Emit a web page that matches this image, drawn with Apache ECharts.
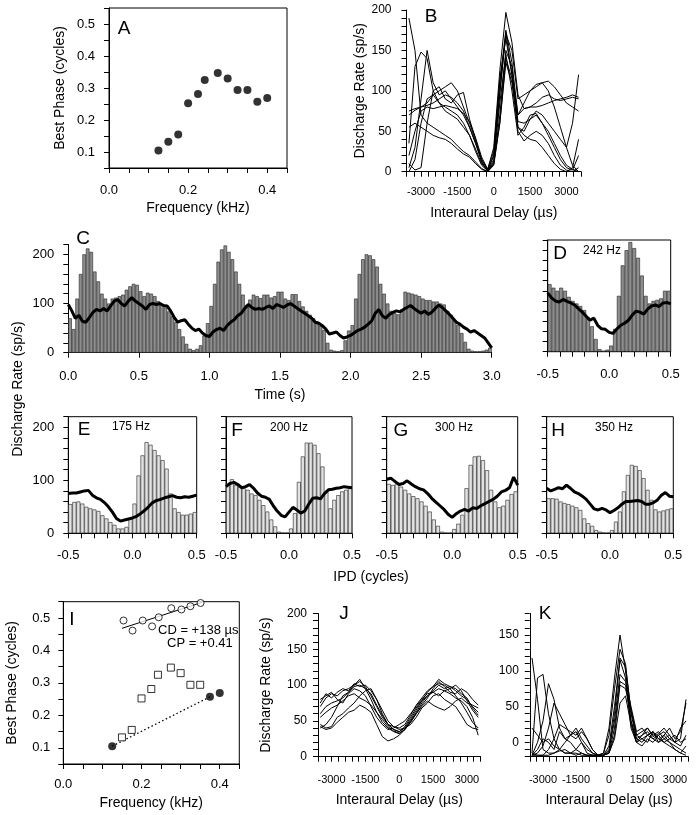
<!DOCTYPE html>
<html><head><meta charset="utf-8">
<script src="https://cdn.jsdelivr.net/npm/echarts/dist/echarts.min.js"></script>
<style>html,body{margin:0;padding:0;background:#fff}#c{width:698px;height:815px}</style>
</head><body><div id="c"></div>
<script>
// ---------------- DATA ----------------
// Panel A
const aFreq  = [0.125,0.15,0.175,0.2,0.225,0.242,0.275,0.3,0.325,0.35,0.375,0.4];
const aPhase = [0.105,0.132,0.155,0.252,0.281,0.325,0.347,0.33,0.294,0.294,0.257,0.269];

// Shared interaural delay samples (µs) for B, J, K
const delays = [-3500,-3250,-3000,-2750,-2500,-2250,-2000,-1750,-1500,-1250,-1000,-750,-500,-250,0,250,500,750,1000,1250,1500,1750,2000,2250,2500,2750,3000,3250,3500];

// Panel B curves (sp/s)
const b1 = [190,150,70,60,55,50,45,40,32,25,20,12,4,0,10,60,135,110,55,45,40,38,30,20,10,3,0,5,40];
const b2 = [35,130,148,140,100,85,80,75,70,60,45,25,8,1,15,95,172,120,62,60,65,70,60,45,30,15,5,2,20];
const b3 = [5,30,90,150,110,95,100,90,80,70,55,35,12,2,20,110,175,135,70,85,100,108,110,100,80,55,30,8,0];
const b4 = [75,78,80,82,85,90,95,92,85,75,55,35,15,3,25,115,165,120,70,78,80,80,82,85,88,90,92,95,92];
const b5 = [70,76,80,85,95,100,105,110,100,80,60,38,15,2,20,100,170,150,90,95,100,105,110,112,105,95,85,80,75];
const b6 = [10,2,5,60,100,105,90,85,95,98,65,40,12,0,10,70,150,130,55,50,65,75,70,60,50,40,30,60,120];
const b7 = [55,60,55,50,45,42,40,35,28,22,18,10,3,0,8,60,140,115,50,38,45,50,45,35,20,8,2,0,5];
const b8 = [0,15,60,90,95,85,75,70,65,55,45,28,10,1,12,85,145,100,45,55,70,72,60,50,35,20,8,3,0];
const b9 = [20,50,75,80,78,80,82,80,78,72,62,42,18,3,30,125,197,160,95,78,80,85,92,95,90,88,90,92,90];

// Panel C: PSTH bins (0.025 s) and rate line
const cBinWidth = 0.025;
const cBins = [70,48,110,160,200,212,205,165,145,120,110,100,110,112,115,118,128,135,140,138,
  125,115,122,120,115,105,98,92,84,74,62,48,33,18,8,5,8,15,35,60,
  95,140,185,210,218,205,190,165,140,118,97,108,118,115,111,118,118,112,115,124,
  124,110,107,119,119,105,94,85,77,70,63,55,46,20,6,4,3,5,25,45,
  56,110,160,190,200,198,190,175,140,120,100,85,80,78,88,124,122,120,118,115,
  110,107,107,104,104,100,98,85,77,66,56,40,22,8,4,3,3,4,6,10];
const cLine = [98,85,70,76,64,62,72,82,88,85,90,85,95,105,108,100,95,105,112,105,
  100,95,88,98,100,98,100,96,95,85,72,62,65,67,58,50,45,48,40,35,
  33,42,47,50,45,55,62,67,75,80,90,98,92,88,90,88,92,95,90,98,
  95,92,97,100,95,90,85,80,75,70,62,60,55,48,38,40,42,35,30,32,
  35,40,45,48,52,58,65,80,88,75,70,78,82,85,83,88,92,96,90,85,
  80,85,78,82,90,97,92,85,78,70,62,58,52,48,42,45,40,35,30,20,10];

// Panels D-H: IPD histograms (32 bins, -0.5..0.5 cycles) and rate lines (33 samples)
const ipdStep = 1/32;
const dBins = [133,126,120,126,120,108,100,95,90,82,68,50,25,5,2,4,12,45,110,170,200,216,204,185,150,110,95,100,102,105,120,120];
const dLine = [116,106,100,98,103,99,96,92,85,78,70,62,66,52,45,44,38,36,45,52,56,62,72,80,78,74,84,90,92,89,96,97,94];
const eBins = [55,59,60,56,50,47,45,42,34,28,21,16,9,9,12,29,56,109,147,172,167,157,147,138,122,75,47,40,35,35,37,40];
const eLine = [75,76,76,78,80,81,72,67,64,58,50,40,28,23,25,27,29,32,37,43,50,58,62,64,67,69,71,68,67,69,68,70,72];
const fBins = [94,102,91,88,85,82,75,72,63,53,41,26,13,3,1,1,9,38,97,145,171,171,167,151,126,79,47,63,72,79,82,85];
const fLine = [88,94,96,92,86,88,92,85,76,70,68,64,52,42,34,31,40,49,44,38,42,55,66,67,65,75,82,83,85,86,88,87,86];
const gBins = [93,91,94,88,82,75,70,66,60,52,41,26,14,3,1,1,8,18,35,85,129,145,146,138,119,82,60,49,52,63,74,79];
const gLine = [102,104,98,92,94,99,93,88,84,82,75,66,59,52,45,36,30,37,42,45,42,48,47,52,56,60,64,70,78,81,86,106,91];
const hBins = [66,66,65,60,57,55,52,49,44,28,19,14,6,3,1,1,6,22,41,79,110,129,127,119,104,82,63,45,41,43,45,47];
const hLine = [85,80,83,86,84,91,85,78,75,70,64,55,46,44,47,44,39,43,48,55,60,60,61,62,60,55,55,58,63,72,77,70,69];

// Panel I
const iSqFreq  = [0.15,0.175,0.2,0.225,0.242,0.275,0.3,0.325,0.35];
const iSqPhase = [0.132,0.155,0.252,0.281,0.325,0.347,0.33,0.294,0.294];
const iDotFreq  = [0.125,0.375,0.4];
const iDotPhase = [0.105,0.257,0.269];
const iCircFreq  = [0.154,0.177,0.203,0.227,0.244,0.276,0.302,0.325,0.351];
const iCircPhase = [0.492,0.461,0.492,0.474,0.502,0.530,0.526,0.536,0.546];
const iFitFreq  = [0.15,0.355];
const iFitPhase = [0.468,0.548];
const iTrendFreq  = [0.125,0.375];
const iTrendPhase = [0.105,0.257];

// Panel J curves
const j1 = [70,82,88,85,92,95,100,105,98,85,70,55,45,38,35,42,55,68,78,85,92,100,95,98,92,85,80,70,62];
const j2 = [40,45,55,70,85,90,100,108,95,80,62,48,40,35,32,38,48,60,72,82,95,105,98,90,88,95,90,80,72];
const j3 = [80,85,90,80,75,88,95,92,85,70,55,45,38,40,45,50,60,70,80,88,90,85,92,95,100,92,78,65,55];
const j4 = [45,40,42,55,60,68,75,85,92,95,80,60,45,38,35,40,45,55,68,75,85,88,80,75,70,58,45,40,38];
const j5 = [60,70,75,78,82,90,98,100,95,88,72,58,45,42,38,40,52,65,78,90,98,102,100,95,85,75,62,48,40];
const j6 = [42,38,40,48,55,62,65,72,68,62,45,28,22,25,30,38,48,60,70,78,72,68,65,70,78,82,75,72,68];
const j7 = [75,88,82,90,95,92,102,98,100,92,80,65,50,42,40,45,58,72,82,92,98,108,102,98,95,88,82,68,58];
const j8 = [55,62,68,72,78,85,88,82,78,72,62,52,42,36,33,38,50,62,75,85,90,95,92,88,82,78,70,55,30];

// Panel K curves
const k1 = [118,60,-10,-15,-15,-12,-10,-15,-15,-18,-18,-18,-18,-15,20,90,150,100,30,0,5,10,15,5,10,0,-5,-10,-15];
const k2 = [-15,90,95,40,5,-10,-15,-15,-10,-15,-18,-18,-18,-15,10,75,130,110,40,5,10,20,10,15,5,0,-10,-15,-18];
const k3 = [-18,0,30,82,60,20,5,10,15,0,-10,-15,-18,-18,-5,50,118,105,45,10,15,20,8,12,20,10,0,5,60];
const k4 = [-18,-15,-5,20,55,40,25,10,20,5,-5,-15,-18,-18,-10,30,95,85,50,15,20,10,15,0,10,20,5,15,55];
const k5 = [-15,-18,-18,-10,5,25,20,15,10,20,5,-10,-18,-18,-15,20,85,80,30,5,0,10,5,10,0,5,10,0,5];
const k6 = [-18,-18,-18,-18,-15,-10,0,10,5,15,5,-10,-18,-18,-15,5,55,65,25,0,-5,5,0,10,15,5,0,20,30];
const k7 = [20,10,0,5,-5,-10,-15,-15,-18,-15,-18,-18,-18,-18,-15,10,80,75,45,10,5,0,15,5,0,-5,-10,-15,-5];
const k8 = [-18,-10,5,0,-10,15,5,0,-10,0,-15,-18,-18,-18,-12,40,115,90,20,0,10,15,5,0,5,10,0,-5,10];

// ---------------- CHART ----------------
const FONT = '"Liberation Sans", Arial, Helvetica, sans-serif';
const BLACK = '#000';
const isMult = (v, s) => Math.abs(v / s - Math.round(v / s)) < 1e-6;
const fmt1 = v => (Math.abs(v) < 1e-9 ? '0.0' : v.toFixed(1));
const zip = (xs, ys) => xs.map((x, i) => [x, ys[i]]);

const grids = [
  {left:109,   top:8,     width:178,   height:160,   show:true},  // A 0
  {left:406.5, top:10,    width:174.5, height:161.7},             // B 1
  {left:68.3,  top:244.5, width:423.4, height:108.2},             // C 2
  {left:547.7, top:240,   width:123,   height:111.7, show:true},  // D 3
  {left:68.3,  top:416.7, width:128.4, height:116.6, show:true},  // E 4
  {left:226,   top:416.7, width:126,   height:116.6, show:true},  // F 5
  {left:386.7, top:416.7, width:131,   height:116.6, show:true},  // G 6
  {left:546.7, top:416.7, width:126.6, height:116.6, show:true},  // H 7
  {left:63.3,  top:601.7, width:176,   height:162.3, show:true},  // I 8
  {left:318,   top:613.5, width:162.5, height:143.2},             // J 9
  {left:529.8, top:613.5, width:158.4, height:143.2}              // K 10
].map(g => Object.assign({outerBoundsMode:'none', containLabel:false, borderColor:BLACK, borderWidth:1, backgroundColor:'transparent'}, g));

const xAxes = [], yAxes = [], series = [];
function valAxis(gi, min, max, interval, fmt, o) {
  o = o || {};
  const a = {
    type:'value', gridIndex:gi, min, max, interval,
    axisLine:{show:true, onZero:false, lineStyle:{color:BLACK, width:1}},
    axisTick:{show:true, inside:false, length:5, lineStyle:{color:BLACK, width:1}},
    splitLine:{show:false}, minorTick:{show:false}, minorSplitLine:{show:false},
    axisLabel:{show:true, formatter:fmt, color:BLACK, fontFamily:FONT, fontSize:o.fs || 13, margin:o.margin || 14, hideOverlap:false},
    silent:true
  };
  if (o.name) {
    a.name = o.name; a.nameLocation = 'middle'; a.nameGap = o.nameGap;
    a.nameTextStyle = {color:BLACK, fontFamily:FONT, fontSize:14};
  }
  return a;
}
function addX(a) { xAxes.push(a); return xAxes.length - 1; }
function addY(a) { yAxes.push(a); return yAxes.length - 1; }
function catAxis(gi, n) {
  return addX({type:'category', gridIndex:gi, data:Array.from({length:n}, (_, i) => i), show:false, boundaryGap:true});
}
function lineSeries(xi, yi, data, w) {
  series.push({type:'line', xAxisIndex:xi, yAxisIndex:yi, data, symbol:'none', showSymbol:false,
    lineStyle:{color:BLACK, width:w}, silent:true, z:3, animation:false});
}
function barSeries(xi, yi, data, fill) {
  series.push({type:'bar', xAxisIndex:xi, yAxisIndex:yi, data, barCategoryGap:'0%', barGap:'0%',
    itemStyle:{color:fill, borderColor:'#222', borderWidth:0.6}, silent:true, z:2, animation:false});
}

// ---- A ----
{
  const xi = addX(valAxis(0, 0, 0.45, 0.05, v => isMult(v, 0.2) ? fmt1(v) : '', {margin:16, name:'Frequency (kHz)', nameGap:33}));
  const yi = addY(valAxis(0, 0.05, 0.55, 0.05, v => isMult(v, 0.1) ? fmt1(v) : '', {margin:14, name:'Best Phase (cycles)', nameGap:42}));
  series.push({type:'scatter', xAxisIndex:xi, yAxisIndex:yi, data:zip(aFreq, aPhase), symbol:'circle', symbolSize:8,
    itemStyle:{color:BLACK}, silent:true, animation:false});
}
// ---- B ----
{
  const xi = addX(valAxis(1, -3600, 3600, 300, v => v % 1500 === 0 ? String(v) : '', {fs:11, margin:15, name:'Interaural Delay (\u00b5s)', nameGap:34}));
  const yi = addY(valAxis(1, 0, 200, 10, v => v % 50 === 0 ? String(v) : '', {fs:12, margin:15, name:'Discharge Rate (sp/s)', nameGap:37}));
  [b1,b2,b3,b4,b5,b6,b7,b8,b9].forEach(c => lineSeries(xi, yi, zip(delays, c), 1));
}
// ---- C ----
{
  const xi = addX(valAxis(2, 0, 3, 0.5, v => fmt1(v), {margin:17, name:'Time (s)', nameGap:35}));
  const yi = addY(valAxis(2, 0, 220, 20, v => v % 100 === 0 ? String(v) : '', {margin:14}));
  const ci = catAxis(2, cBins.length);
  barSeries(ci, yi, cBins, '#8e8e8e');
  lineSeries(xi, yi, cLine.map((v, i) => [i * cBinWidth, v]), 3);
}
// ---- D-H ----
function ipdPanel(gi, bins, line, showY, fill) {
  const xi = addX(valAxis(gi, -0.5, 0.5, 0.1, v => isMult(v, 0.5) ? fmt1(v) : '', {margin:16}));
  const yi = addY(valAxis(gi, 0, 220, 20, v => (showY && v % 100 === 0) ? String(v) : '', {margin:14}));
  const ci = catAxis(gi, bins.length);
  barSeries(ci, yi, bins, fill);
  lineSeries(xi, yi, line.map((v, i) => [-0.5 + i * ipdStep, v]), 3);
}
ipdPanel(3, dBins, dLine, false, '#8e8e8e');
ipdPanel(4, eBins, eLine, true, '#e2e2e2');
ipdPanel(5, fBins, fLine, false, '#e2e2e2');
ipdPanel(6, gBins, gLine, false, '#e2e2e2');
ipdPanel(7, hBins, hLine, false, '#e2e2e2');
// ---- I ----
{
  const xi = addX(valAxis(8, 0, 0.45, 0.05, v => isMult(v, 0.2) ? fmt1(v) : '', {margin:14, name:'Frequency (kHz)', nameGap:32}));
  const yi = addY(valAxis(8, 0.05, 0.55, 0.05, v => isMult(v, 0.1) ? fmt1(v) : '', {margin:13, name:'Best Phase (cycles)', nameGap:44}));
  series.push({type:'line', xAxisIndex:xi, yAxisIndex:yi, data:zip(iTrendFreq, iTrendPhase), symbol:'none',
    lineStyle:{color:BLACK, width:1.3, type:[1.5, 2.5]}, silent:true, animation:false});
  series.push({type:'line', xAxisIndex:xi, yAxisIndex:yi, data:zip(iFitFreq, iFitPhase), symbol:'none',
    lineStyle:{color:BLACK, width:1}, silent:true, animation:false});
  series.push({type:'scatter', xAxisIndex:xi, yAxisIndex:yi, data:zip(iSqFreq, iSqPhase), symbol:'rect', symbolSize:7,
    itemStyle:{color:'#fff', borderColor:BLACK, borderWidth:1}, silent:true, animation:false, z:4});
  series.push({type:'scatter', xAxisIndex:xi, yAxisIndex:yi, data:zip(iDotFreq, iDotPhase), symbol:'circle', symbolSize:8,
    itemStyle:{color:BLACK}, silent:true, animation:false, z:4});
  series.push({type:'scatter', xAxisIndex:xi, yAxisIndex:yi, data:zip(iCircFreq, iCircPhase), symbol:'circle', symbolSize:7,
    itemStyle:{color:'#fff', borderColor:BLACK, borderWidth:1}, silent:true, animation:false, z:4});
}
// ---- J ----
{
  const xi = addX(valAxis(9, -3600, 3600, 300, v => v % 1500 === 0 ? String(v) : '', {fs:11, margin:18, name:'Interaural Delay (\u00b5s)', nameGap:36}));
  const yi = addY(valAxis(9, 0, 200, 10, v => v % 50 === 0 ? String(v) : '', {fs:12, margin:11, name:'Discharge Rate (sp/s)', nameGap:45}));
  [j1,j2,j3,j4,j5,j6,j7,j8].forEach(c => lineSeries(xi, yi, zip(delays, c), 1));
}
// ---- K ----
{
  const xi = addX(valAxis(10, -3600, 3600, 300, v => v % 1500 === 0 ? String(v) : '', {fs:11, margin:18, name:'Interaural Delay (\u00b5s)', nameGap:36}));
  const yi = addY(valAxis(10, -20, 180, 10, v => (v >= 0 && v % 50 === 0) ? String(v) : '', {fs:12, margin:11}));
  [k1,k2,k3,k4,k5,k6,k7,k8].forEach(c => lineSeries(xi, yi, zip(delays, c), 1));
}

function txt(x, y, text, size, o) {
  o = o || {};
  const al = o.align || 'center';
  return {type:'text', x, y, rotation:o.rot || 0, silent:true, z:10,
    style:{text, fill:BLACK, font:size + 'px ' + FONT, textAlign:al, textVerticalAlign:'middle', align:al, verticalAlign:'middle'}};
}
const graphics = [
  txt(124, 29, 'A', 19), txt(431, 17, 'B', 19), txt(83, 239, 'C', 19), txt(560, 254, 'D', 19),
  txt(602, 251, '242 Hz', 12),
  txt(84, 430, 'E', 19), txt(131, 427, '175 Hz', 12),
  txt(237, 431, 'F', 19), txt(289, 428, '200 Hz', 12),
  txt(401, 431, 'G', 19), txt(454, 428, '300 Hz', 12),
  txt(558, 431, 'H', 19), txt(614, 428, '350 Hz', 12),
  txt(72, 620, 'I', 19), txt(344, 614, 'J', 19), txt(545, 614, 'K', 19),
  txt(158, 630, 'CD = +138 \u00b5s', 13, {align:'left'}),
  txt(167, 643, 'CP = +0.41', 13, {align:'left'}),
  txt(18, 389, 'Discharge Rate (sp/s)', 14, {rot:Math.PI / 2}),
  txt(371, 577, 'IPD (cycles)', 14)
];

const chart = echarts.init(document.getElementById('c'), null, {renderer:'canvas'});
chart.setOption({
  animation:false,
  backgroundColor:'#fff',
  textStyle:{fontFamily:FONT, color:BLACK},
  grid:grids, xAxis:xAxes, yAxis:yAxes, series, graphic:graphics,
  tooltip:{show:false}
});
</script></body></html>
